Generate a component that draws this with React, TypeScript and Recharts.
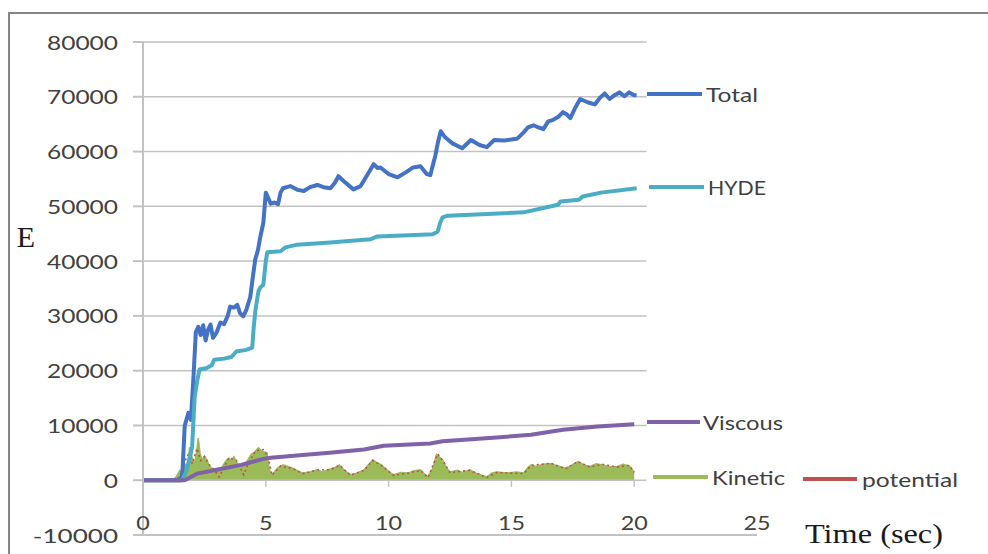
import { Area, ComposedChart, Line, ReferenceLine, XAxis, YAxis } from "recharts";

const TIME_TICKS = [0, 5, 10, 15, 20, 25];
const E_TICKS = [-10000, 0, 10000, 20000, 30000, 40000, 50000, 60000, 70000, 80000];
const GRID_LEVELS = [0, 10000, 20000, 30000, 40000, 50000, 60000, 70000, 80000];
const ZERO_TICKS = [5, 10, 15, 20];

// [time (sec), E]
const totalPts: [number, number][] = [
  [0, 0], [1.5, 0], [1.6, 1000], [1.7, 10000], [1.85, 12300], [1.95, 11000], [2.05, 18400],
  [2.15, 27000], [2.25, 28000], [2.35, 26500], [2.45, 28300], [2.55, 25500], [2.65, 27500],
  [2.75, 28400], [2.85, 26000], [3.0, 27000], [3.15, 28800], [3.3, 28500], [3.45, 30000],
  [3.55, 31700], [3.7, 31500], [3.84, 32000], [3.95, 30500], [4.08, 29900], [4.2, 31000],
  [4.37, 33500], [4.47, 37000], [4.57, 40300], [4.68, 42000], [4.78, 44500], [4.9, 47000],
  [5.0, 52500], [5.1, 51500], [5.2, 50500], [5.35, 50700], [5.5, 50400], [5.6, 52500],
  [5.7, 53300], [5.85, 53500], [6.0, 53700], [6.3, 53000], [6.55, 52800], [6.8, 53500],
  [7.1, 53900], [7.35, 53500], [7.63, 53300], [7.8, 54200], [7.96, 55500], [8.2, 54500],
  [8.57, 53100], [8.86, 53700], [9.1, 55500], [9.39, 57700], [9.55, 57000], [9.67, 57100],
  [10.0, 55900], [10.37, 55300], [10.7, 56200], [11.0, 57100], [11.3, 57300], [11.55, 55900],
  [11.7, 55700], [11.8, 57500], [11.9, 59200], [12.0, 61500], [12.12, 63700], [12.3, 62600],
  [12.6, 61500], [13.0, 60600], [13.35, 62100], [13.7, 61200], [14.0, 60800], [14.3, 62100],
  [14.7, 62000], [15.0, 62200], [15.25, 62400], [15.5, 63500], [15.67, 64400], [15.9, 64800],
  [16.1, 64400], [16.3, 64100], [16.5, 65500], [16.7, 65800], [16.9, 66300], [17.1, 67200],
  [17.25, 66800], [17.4, 66100], [17.6, 68000], [17.8, 69600], [18.1, 69000], [18.4, 68600],
  [18.6, 69800], [18.8, 70600], [19.0, 69600], [19.2, 70300], [19.4, 70800], [19.6, 70100],
  [19.8, 70800], [20.0, 70300], [20.1, 70300],
];

const hydePts: [number, number][] = [
  [0, 0], [1.6, 0], [1.75, 1500], [1.9, 4000], [2.0, 6100], [2.1, 15000], [2.2, 18000],
  [2.3, 20200], [2.6, 20500], [2.8, 21000], [2.9, 22000], [3.3, 22200], [3.6, 22500],
  [3.8, 23500], [4.2, 23800], [4.45, 24200], [4.5, 27500], [4.57, 30800], [4.7, 34500],
  [4.78, 35200], [4.9, 35700], [5.0, 40000], [5.06, 41600], [5.6, 41800], [5.8, 42500],
  [6.27, 43000], [7.63, 43400], [9.27, 44000], [9.55, 44500], [11.8, 44900], [12.0, 45400],
  [12.1, 47000], [12.2, 48000], [12.4, 48300], [15.5, 48900], [16.9, 50300], [17.0, 50900],
  [17.75, 51200], [17.9, 51800], [18.65, 52500], [20.1, 53300],
];

const viscousPts: [number, number][] = [
  [0, 0], [1.7, 0], [2.2, 1200], [3.0, 1900], [4.0, 2800], [4.9, 3900], [5.2, 4100],
  [6.5, 4600], [7.6, 5000], [9.0, 5600], [9.8, 6300], [11.7, 6700], [12.2, 7100],
  [14.4, 7800], [15.8, 8300], [17.1, 9200], [18.5, 9800], [20.0, 10200],
];

const kineticPts: [number, number][] = [
  [0, 0], [1.2, 0], [1.35, 600], [1.5, 1800], [1.6, 1200], [1.7, 3000], [1.8, 2400],
  [1.9, 6000], [2.0, 4200], [2.1, 3000], [2.18, 5200], [2.25, 7700], [2.32, 5000],
  [2.4, 3700], [2.5, 4400], [2.6, 3700], [2.7, 2600], [2.8, 2200], [2.95, 1800], [3.1, 1500],
  [3.25, 2600], [3.4, 3700], [3.5, 4000], [3.6, 3600], [3.7, 4300], [3.85, 3000], [4.0, 2300],
  [4.2, 3200], [4.4, 4700], [4.55, 5200], [4.7, 5900], [4.85, 5300], [5.05, 5000], [5.12, 2600],
  [5.2, 1000], [5.35, 1500], [5.5, 2300], [5.7, 2800], [5.9, 2500], [6.1, 2200], [6.3, 1700],
  [6.5, 1300], [6.8, 1500], [7.1, 1900], [7.3, 1500], [7.6, 2000], [7.8, 2300], [8.0, 2800],
  [8.2, 1800], [8.45, 1000], [8.7, 1300], [9.0, 1900], [9.2, 2900], [9.35, 3700], [9.5, 3300],
  [9.7, 2800], [9.95, 1800], [10.2, 1000], [10.5, 1400], [10.8, 1300], [11.0, 1700],
  [11.3, 1900], [11.45, 1200], [11.6, 600], [11.8, 2200], [11.95, 4700], [12.05, 4300],
  [12.2, 3700], [12.35, 2300], [12.5, 1500], [12.8, 1800], [13.0, 1400], [13.3, 1900],
  [13.6, 1200], [14.0, 600], [14.2, 1300], [14.4, 1500], [14.8, 1300], [15.2, 1500],
  [15.5, 1300], [15.65, 2200], [15.8, 2800], [16.0, 2500], [16.3, 2900], [16.6, 3000],
  [16.9, 2600], [17.2, 2200], [17.45, 2700], [17.7, 3400], [17.95, 2800], [18.2, 2500],
  [18.45, 3000], [18.7, 2800], [19.0, 2400], [19.3, 2500], [19.55, 2900], [19.8, 2600],
  [20.0, 1500],
];

const potentialPts: [number, number][] = [
  [0, 0], [1.3, 0], [1.5, 700], [1.7, 3400], [1.9, 5200], [2.0, 3000], [2.2, 5800],
  [2.35, 3600], [2.5, 4300], [2.7, 2800], [2.9, 1900], [3.1, 600], [3.3, 2400], [3.5, 4100],
  [3.8, 3600], [4.1, 1000], [4.3, 3200], [4.6, 5400], [4.9, 5600], [5.1, 4200], [5.25, 900],
  [5.6, 2600], [6.1, 2100], [6.5, 1200], [7.1, 1900], [7.6, 1900], [8.0, 2700], [8.45, 900],
  [9.0, 1800], [9.35, 3600], [9.7, 2700], [10.2, 900], [10.8, 1300], [11.3, 1800],
  [11.6, 500], [12.0, 4800], [12.2, 3600], [12.5, 1400], [13.3, 1800], [14.0, 500],
  [14.4, 1400], [15.5, 1200], [15.8, 2700], [16.6, 3100], [17.2, 2100], [17.7, 3400],
  [18.2, 2400], [18.7, 2900], [19.3, 2400], [19.8, 2700], [20.0, 1400],
];

const SERIES_NAMES = ["Total", "HYDE", "Viscous", "Kinetic", "potential"];

const BLUE = "#4472c4";
const AQUA = "#4bacc6";
const PURPLE = "#7f62a8";
const GREEN = "#9bbb59";
const RED = "#c0504d";
const GRID = "#c2c2c2";
const LABEL = "#404040";
const SANS = "Lato, 'Open Sans', sans-serif";
const SERIF = "'Liberation Serif', 'DejaVu Serif', serif";

const rows = (pts: [number, number][]) => pts.map(([t, e]) => ({ t, e }));

const legendKeys = [
  { color: BLUE, x1: 647, x2: 702, y: 94, tx: 706, tw: 52 },
  { color: AQUA, x1: 649, x2: 704, y: 187, tx: 708, tw: 58 },
  { color: PURPLE, x1: 647, x2: 700, y: 422, tx: 703, tw: 80 },
  { color: GREEN, x1: 653, x2: 708, y: 477, tx: 712, tw: 73 },
  { color: RED, x1: 803, x2: 857, y: 479, tx: 862, tw: 96 },
];

function YTick(props: any) {
  const v = String(props.payload.value);
  return (
    <text x={props.x} y={props.y} textAnchor="end" dominantBaseline="central"
      fontFamily={SANS} fontSize={19} fill={LABEL}
      textLength={v.length * 14.2} lengthAdjust="spacingAndGlyphs">
      {v}
    </text>
  );
}

function XTick(props: any) {
  const v = String(props.payload.value);
  return (
    <text x={props.x} y={props.y} dy={-13} textAnchor="middle"
      fontFamily={SANS} fontSize={19} fill={LABEL}
      textLength={v.length * 13.5} lengthAdjust="spacingAndGlyphs">
      {v}
    </text>
  );
}

export default function App() {
  return (
    <div style={{ position: "relative", width: 988, height: 554, background: "#fff", overflow: "hidden" }}>
      <style>{`body{margin:0}`}</style>
      <div style={{
        position: "absolute", left: 8, top: 12, right: -4, bottom: -4,
        borderTop: "2px solid #858585", borderLeft: "2px solid #858585",
      }} />
      <ComposedChart width={988} height={554} margin={{ top: 42, right: 231, bottom: 0, left: 0 }}>
        <XAxis
          dataKey="t" type="number" domain={[0, 25]} ticks={TIME_TICKS}
          height={19} tickLine={false} stroke={GRID} strokeWidth={2}
          tick={<XTick />} interval={0}
        />
        <YAxis
          type="number" domain={[-10000, 80000]} ticks={E_TICKS} width={143}
          tickSize={10} tickMargin={15} stroke={GRID} strokeWidth={2}
          tick={<YTick />} interval={0}
        />
        {GRID_LEVELS.map((v) => (
          <ReferenceLine key={v} segment={[{ x: 0, y: v }, { x: 20.5, y: v }]} stroke={GRID} strokeWidth={1.5} />
        ))}
        {ZERO_TICKS.map((t) => (
          <ReferenceLine key={"z" + t} segment={[{ x: t, y: 0 }, { x: t, y: -1200 }]} stroke={GRID} strokeWidth={1.5} />
        ))}
        <Area data={rows(kineticPts)} dataKey="e" name={SERIES_NAMES[3]} type="linear"
          fill={GREEN} fillOpacity={1} stroke={GREEN} strokeWidth={1.5} isAnimationActive={false} />
        <Line data={rows(potentialPts)} dataKey="e" name={SERIES_NAMES[4]} type="linear"
          stroke={RED} strokeWidth={1.6} strokeDasharray="2 3" dot={false} isAnimationActive={false} />
        <Line data={rows(totalPts)} dataKey="e" name={SERIES_NAMES[0]} type="linear"
          stroke={BLUE} strokeWidth={4} strokeLinejoin="round" dot={false} isAnimationActive={false} />
        <Line data={rows(hydePts)} dataKey="e" name={SERIES_NAMES[1]} type="linear"
          stroke={AQUA} strokeWidth={4} strokeLinejoin="round" dot={false} isAnimationActive={false} />
        <Line data={rows(viscousPts)} dataKey="e" name={SERIES_NAMES[2]} type="linear"
          stroke={PURPLE} strokeWidth={4} strokeLinejoin="round" dot={false} isAnimationActive={false} />
      </ComposedChart>
      <svg width={988} height={554} style={{ position: "absolute", left: 0, top: 0, pointerEvents: "none" }}>
        {legendKeys.map((k, i) => (
          <g key={SERIES_NAMES[i]}>
            <rect x={k.x1} y={k.y - 2} width={k.x2 - k.x1} height={4} fill={k.color} />
            <text x={k.tx} y={k.y} dominantBaseline="central" fontFamily={SANS} fontSize={20}
              fill={LABEL} textLength={k.tw} lengthAdjust="spacingAndGlyphs">
              {SERIES_NAMES[i]}
            </text>
          </g>
        ))}
        <text x={26} y={236} textAnchor="middle" dominantBaseline="central" fontFamily={SERIF}
          fontSize={30} fill="#1a1a1a">E</text>
        <text x={805} y={543} fontFamily={SERIF} fontSize={28} fill="#1a1a1a"
          textLength={138} lengthAdjust="spacingAndGlyphs">Time (sec)</text>
      </svg>
    </div>
  );
}
